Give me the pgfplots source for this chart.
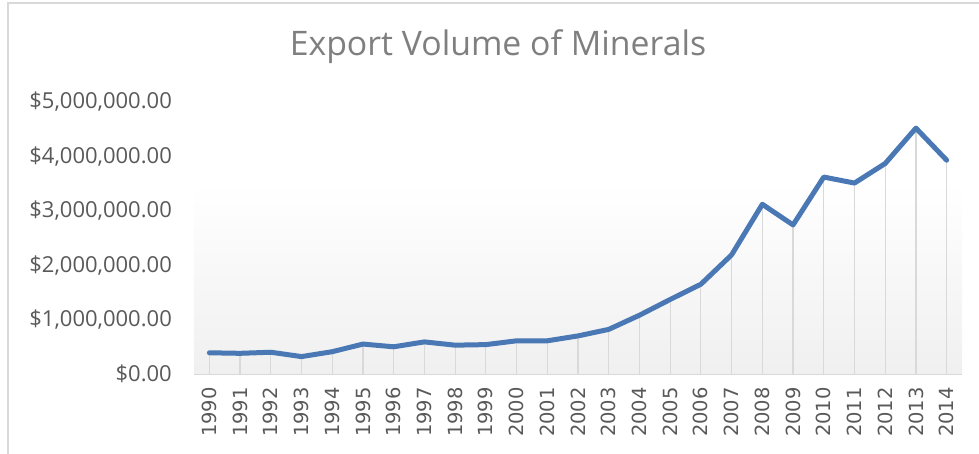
\documentclass[border=0pt]{standalone}
\usepackage{pgfplots}
\pgfplotsset{compat=1.18}
\usepackage{fontspec}
\setmainfont{Open Sans}
\newfontfamily\titlefont{Open Sans}
\newfontfamily\yearfont{DejaVu Sans}
\definecolor{lineblue}{HTML}{4A78B4}
\definecolor{labgray}{HTML}{595959}
\definecolor{titgray}{HTML}{7F7F7F}
\definecolor{dropgray}{HTML}{D9D9D9}
\definecolor{framegray}{HTML}{D9D9D9}
\begin{document}
\begin{tikzpicture}[x=1pt,y=1pt]
\useasboundingbox (-194,-80) rectangle (785,374);
\draw[framegray, line width=1.5pt] (-186,-90) -- (-186,371) -- (790,371);
\begin{axis}[
  at={(0,0)}, anchor=south west,
  scale only axis, width=768pt, height=272pt,
  xmin=-0.5, xmax=24.5, ymin=0, ymax=5000000,
  axis x line*=bottom, axis y line*=left,
  x axis line style={dropgray, line width=1.5pt, -},
  y axis line style={draw=none},
  scaled y ticks=false,
  xtick={0,...,24},
  xticklabels={1990,1991,1992,1993,1994,1995,1996,1997,1998,1999,2000,2001,2002,2003,2004,2005,2006,2007,2008,2009,2010,2011,2012,2013,2014},
  xticklabel style={rotate=90, anchor=east, font=\yearfont\fontsize{19.5}{19.5}\selectfont, text=labgray, inner sep=0pt, xshift=-13pt},
  major tick length=0pt,
  ytick={0,1000000,2000000,3000000,4000000,5000000},
  yticklabels={\$0.00,{\$1,000,000.00},{\$2,000,000.00},{\$3,000,000.00},{\$4,000,000.00},{\$5,000,000.00}},
  yticklabel style={anchor=east, font=\fontsize{22}{22}\selectfont, text=labgray, inner sep=0pt, xshift=-22pt},
  clip=false,
]
\addplot[draw=none, top color=white, bottom color=black!6, forget plot] coordinates {(-0.5,0) (-0.5,3500000) (24.5,3500000) (24.5,0)} -- cycle;
\addplot[ycomb, dropgray, line width=1.2pt, forget plot] table {
x y
0 390000
1 380000
2 400000
3 320000
4 410000
5 550000
6 500000
7 590000
8 530000
9 540000
10 610000
11 610000
12 700000
13 820000
14 1080000
15 1370000
16 1650000
17 2190000
18 3120000
19 2740000
20 3620000
21 3510000
22 3870000
23 4520000
24 3930000
};
\addplot[lineblue, line width=5pt, line join=round, line cap=round] table {
x y
0 390000
1 380000
2 400000
3 320000
4 410000
5 550000
6 500000
7 590000
8 530000
9 540000
10 610000
11 610000
12 700000
13 820000
14 1080000
15 1370000
16 1650000
17 2190000
18 3120000
19 2740000
20 3620000
21 3510000
22 3870000
23 4520000
24 3930000
};
\end{axis}
\node[font=\titlefont\fontsize{33.8}{33.8}\selectfont, text=titgray] at (304,327) {Export Volume of Minerals};
\end{tikzpicture}
\end{document}
